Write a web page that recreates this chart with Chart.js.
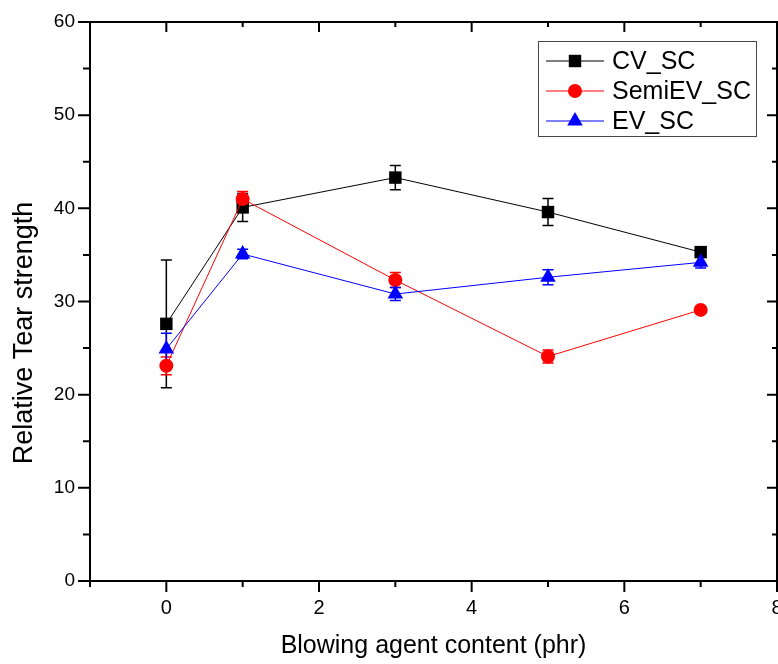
<!DOCTYPE html>
<html>
<head>
<meta charset="utf-8">
<script src="https://cdn.jsdelivr.net/npm/chart.js@4/dist/chart.umd.min.js"></script>
<style>
  body { margin: 0; background: #fff; }
  canvas { display: block; }
</style>
</head>
<body>
<canvas id="grafico" width="778" height="664"></canvas>
<script>
// dados
const blowingAgent = [0, 1, 3, 5, 7]
const cvSC = [27.6, 40.1, 43.3, 39.6, 35.3]
const cvErr = [6.85, 1.5, 1.3, 1.45, 0.3]
const semiSC = [23.1, 41.0, 32.3, 24.1, 29.1]
const semiErr = [0.95, 0.8, 0.8, 0.7, 0.3]
const evSC = [24.9, 35.1, 30.8, 32.6, 34.2]
const evErr = [1.7, 0.5, 0.7, 0.8, 0.6]

const xMajor = [0, 2, 4, 6, 8]
const xMinor = [-1, 1, 3, 5, 7]
const yMajor = [0, 10, 20, 30, 40, 50, 60]
const yMinor = [5, 15, 25, 35, 45, 55]

const fonte = '"Liberation Sans", Arial, sans-serif'

const pts = (ys) => blowingAgent.map((x, i) => ({ x, y: ys[i] }))

const series = [
  { label: 'CV_SC', ys: cvSC, err: cvErr, color: '#000000', style: 'rect', radius: 8.8, order: 3 },
  { label: 'SemiEV_SC', ys: semiSC, err: semiErr, color: '#ff0000', style: 'circle', radius: 7, order: 2 },
  { label: 'EV_SC', ys: evSC, err: evErr, color: '#0000ff', style: 'triangle', radius: 9, order: 1 },
]

// barras de erro, legenda, molduras e títulos
const extras = {
  id: 'extras',
  beforeDatasetsDraw(chart) {
    const { ctx, scales: { x, y } } = chart
    ctx.save()
    ctx.lineWidth = 1.5
    series.forEach(s => {
      ctx.strokeStyle = s.color
      s.ys.forEach((v, i) => {
        const px = x.getPixelForValue(blowingAgent[i])
        const top = y.getPixelForValue(v + s.err[i])
        const bot = y.getPixelForValue(v - s.err[i])
        ctx.beginPath()
        ctx.moveTo(px, top); ctx.lineTo(px, bot)
        ctx.moveTo(px - 5.5, top); ctx.lineTo(px + 5.5, top)
        ctx.moveTo(px - 5.5, bot); ctx.lineTo(px + 5.5, bot)
        ctx.stroke()
      })
    })
    ctx.restore()
  },
  afterDraw(chart) {
    const { ctx, chartArea: a, scales: { x, y } } = chart
    ctx.save()
    ctx.strokeStyle = '#000'
    ctx.lineWidth = 2
    ctx.strokeRect(a.left, a.top, a.right - a.left, a.bottom - a.top)

    ctx.beginPath()
    xMajor.forEach(v => {
      const p = x.getPixelForValue(v)
      ctx.moveTo(p, a.bottom); ctx.lineTo(p, a.bottom + 11)
      ctx.moveTo(p, a.top); ctx.lineTo(p, a.top + 10)
    })
    xMinor.forEach(v => {
      const p = x.getPixelForValue(v)
      ctx.moveTo(p, a.bottom); ctx.lineTo(p, a.bottom + 6)
      ctx.moveTo(p, a.top); ctx.lineTo(p, a.top + 5)
    })
    yMajor.forEach(v => {
      const p = y.getPixelForValue(v)
      ctx.moveTo(a.left - 12, p); ctx.lineTo(a.left, p)
      ctx.moveTo(a.right, p); ctx.lineTo(a.right - 10, p)
    })
    yMinor.forEach(v => {
      const p = y.getPixelForValue(v)
      ctx.moveTo(a.left - 7, p); ctx.lineTo(a.left, p)
      ctx.moveTo(a.right, p); ctx.lineTo(a.right - 5, p)
    })
    ctx.stroke()

    // legenda
    ctx.lineWidth = 1
    ctx.strokeStyle = '#444'
    ctx.strokeRect(538.5, 41.5, 218, 95)
    ctx.font = '25px ' + fonte
    ctx.textBaseline = 'middle'
    ctx.textAlign = 'left'
    series.forEach((s, i) => {
      const ly = 61 + i * 30
      ctx.strokeStyle = s.color
      ctx.beginPath()
      ctx.moveTo(546, ly); ctx.lineTo(604, ly)
      ctx.stroke()
      ctx.fillStyle = s.color
      Chart.helpers.drawPoint(ctx, { pointStyle: s.style, radius: s.radius, borderWidth: 0 }, 575, ly)
      ctx.fillStyle = '#000'
      ctx.fillText(s.label, 612, ly + 1)
    })

    // títulos dos eixos
    ctx.fillStyle = '#000'
    ctx.textAlign = 'center'
    ctx.font = '25px ' + fonte
    ctx.fillText('Blowing agent content (phr)', (a.left + a.right) / 2, 646)
    ctx.font = '27px ' + fonte
    ctx.translate(25, 333)
    ctx.rotate(-Math.PI / 2)
    ctx.fillText('Relative Tear strength', 0, 0)
    ctx.restore()
  }
}

const data = {
  datasets: series.map(s => ({
    label: s.label,
    data: pts(s.ys),
    borderColor: s.color,
    backgroundColor: s.color,
    borderWidth: 1,
    pointStyle: s.style,
    pointRadius: s.radius,
    pointHoverRadius: s.radius,
    pointBorderWidth: 0,
    pointBackgroundColor: s.color,
    showLine: true,
    tension: 0,
    order: s.order
  }))
}

const config = {
  type: 'scatter',
  data,
  options: {
    responsive: false,
    animation: false,
    devicePixelRatio: 1,
    layout: { autoPadding: false, padding: { top: 22, right: 1, left: 0, bottom: 0 } },
    plugins: { legend: { display: false }, tooltip: { enabled: false } },
    scales: {
      x: {
        type: 'linear',
        min: -1,
        max: 8,
        afterBuildTicks: s => { s.ticks = xMajor.map(v => ({ value: v })) },
        afterFit: s => { s.height = 83; s.paddingLeft = 0; s.paddingRight = 0 },
        grid: { display: false, drawTicks: false },
        border: { display: false },
        ticks: { color: '#000', font: { size: 20, family: fonte }, padding: 15, maxRotation: 0, autoSkip: false }
      },
      y: {
        min: 0,
        max: 60,
        afterBuildTicks: s => { s.ticks = yMajor.map(v => ({ value: v })) },
        afterFit: s => { s.width = 90; s.paddingTop = 0; s.paddingBottom = 0 },
        grid: { display: false, drawTicks: false },
        border: { display: false },
        ticks: { color: '#000', font: { size: 19, family: fonte }, padding: 15, autoSkip: false }
      }
    }
  },
  plugins: [extras]
}

const graph = new Chart(document.getElementById('grafico'), config)
</script>
</body>
</html>
